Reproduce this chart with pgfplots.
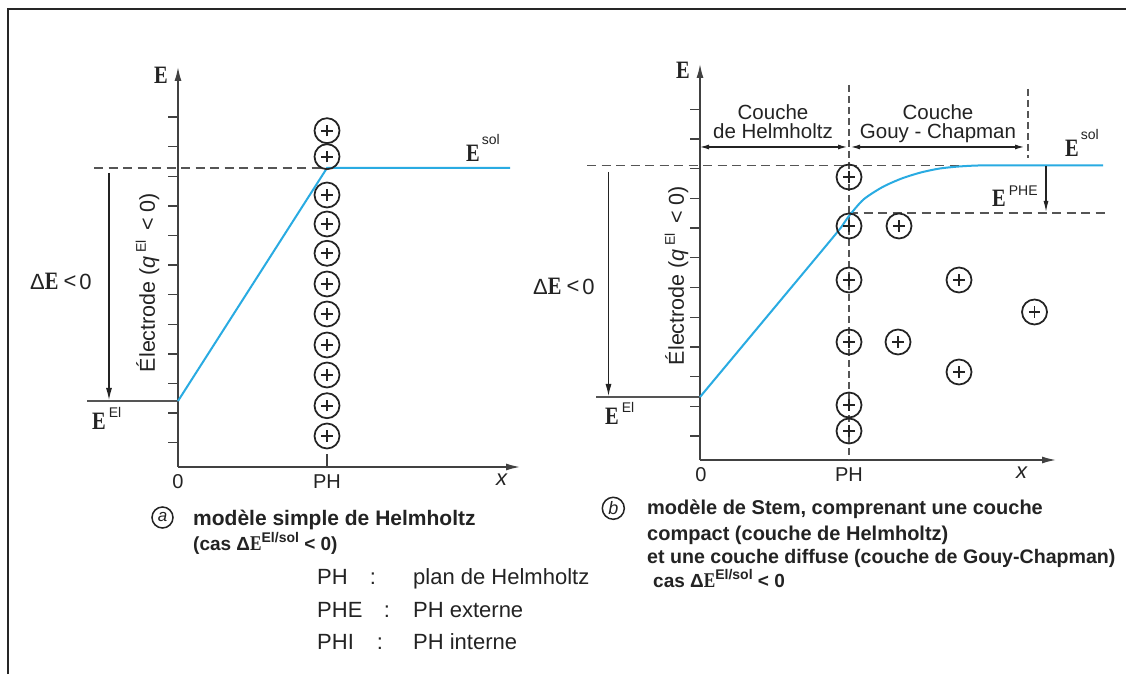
\documentclass[border=0pt]{standalone}
\usepackage{fontspec}
\setmainfont{Liberation Sans}
\newfontfamily\serE{Liberation Serif}
\usepackage{pgfplots}
\pgfplotsset{compat=1.18}
\usetikzlibrary{arrows.meta}

\definecolor{eblue}{RGB}{41,171,226}
\definecolor{ink}{RGB}{35,35,35}
\definecolor{axisgray}{RGB}{65,65,65}
\definecolor{dashgray}{RGB}{85,85,85}

\newcommand\fs[1]{\fontsize{#1}{#1}\selectfont}
\newcommand\Es[1]{{\serE\bfseries\fs{#1}\scalebox{0.82}[1]{E}}}
\newcommand\up[2]{\raisebox{#1pt}{\fs{14}#2}}

\pgfdeclareplotmark{ion}{%
  \pgfpathcircle{\pgfpointorigin}{\pgfplotmarksize}\pgfusepathqstroke
  \pgfpathmoveto{\pgfpoint{-0.45\pgfplotmarksize}{0pt}}%
  \pgfpathlineto{\pgfpoint{0.45\pgfplotmarksize}{0pt}}%
  \pgfpathmoveto{\pgfpoint{0pt}{-0.45\pgfplotmarksize}}%
  \pgfpathlineto{\pgfpoint{0pt}{0.45\pgfplotmarksize}}%
  \pgfusepathqstroke}

\pgfplotsset{
  panel/.style={
    anchor=south west, scale only axis, clip=false,
    axis lines*=left,
    axis line style={line width=1.5pt, axisgray, -{Latex[length=14pt,width=7pt]}},
    xtick=\empty, yticklabels={},
    tick align=outside, major tick length=10pt,
    ytick style={line width=1.3pt, axisgray},
  },
  ions/.style={only marks, mark=ion, mark size=12.5pt, ink,
    mark options={solid, line width=1.75pt}},
  dsh/.style={dashgray, line width=1.5pt, dash pattern=on 9pt off 5.5pt},
}

\begin{document}
\begin{tikzpicture}[x=1pt,y=1pt]
\useasboundingbox (0,0) rectangle (1126,674);
\fill[white] (0,0) rectangle (1126,674);
\draw[line width=2pt, black!85] (7.5,0) -- (7.5,664.5) -- (1126,664.5);

% ---------------- panel a ----------------
\begin{axis}[panel, at={(178pt,207pt)}, width=342pt, height=400pt,
  xmin=178, xmax=520, ymin=207, ymax=607,
  ytick={231.3,260.9,290.5,320.1,349.7,379.3,408.9,438.5,468.1,497.7,527.3,556.9}]
\addplot[dsh] coordinates {(94,506) (322,506)};
\addplot[dashgray, line width=1.5pt] coordinates {(87,273) (178,273)};
\addplot[eblue, line width=2pt] coordinates {(178,273) (327,506) (510,506)};
\addplot[ions] coordinates {(327,543.3) (327,517.3) (327,479) (327,450) (327,420.7)
  (327,390) (327,360) (327,329) (327,299) (327,268.3) (327,238)};
\draw[axisgray, line width=1.5pt] (327,207) -- (327,220);
\draw[ink, line width=1.2pt, -{Latex[length=12pt,width=6pt]}] (109,501) -- (109,274);
\node[anchor=center, ink] at (161,598.5) {\Es{25}};
\node[anchor=base west, ink, inner sep=0] at (466,512) {\Es{25}\hspace{2pt}\up{17}{sol}};
\node[anchor=base west, ink, inner sep=0] at (30,384) {\fs{22}Δ\Es{25}\hspace{5pt}\raisebox{1pt}{<}\hspace{3pt}0};
\node[anchor=base west, ink, inner sep=0] at (92,244) {\Es{25}\hspace{3pt}\up{12}{El}};
\node[rotate=90, anchor=center, ink] at (147.5,391.5)
  {\fs{21.5}Électrode (\textit{q}\,\up{9}{El}\, < 0)};
\node[anchor=center, ink] at (178,192.5) {\fs{20}0};
\node[anchor=center, ink] at (327,192.5) {\fs{20}PH};
\node[anchor=center, ink] at (502,194) {\fs{22}\textit{x}};
\end{axis}

% ---------------- panel b ----------------
\begin{axis}[panel, at={(700pt,214pt)}, width=356pt, height=396pt,
  xmin=700, xmax=1056, ymin=214, ymax=610,
  ytick={238,267.7,297.4,327.1,356.8,386.5,416.2,445.9,475.6,505.3,535,564.7}]
\addplot[dsh] coordinates {(587,508.5) (965,508.5)};
\addplot[dsh] coordinates {(849,461) (1106,461)};
\addplot[dashgray, line width=1.2pt, dash pattern=on 7pt off 4pt] coordinates {(849,589) (849,214)};
\addplot[dashgray, line width=1.2pt, dash pattern=on 7pt off 4pt] coordinates {(1028,585) (1028,516)};
\addplot[dashgray, line width=1.5pt] coordinates {(596,277) (700,277)};
\addplot[eblue, line width=2pt, smooth, tension=0.45] coordinates {
  (700,277) (749,335.8) (787,381.4) (825,427) (840.6,446) (849,458)
  (863.5,474.5) (882.6,487) (901.7,495.5) (920.8,501.5) (939.8,505.5)
  (959,507.5) (978,508.5) (1000,508.5) (1103,508.5)};
\addplot[ions] coordinates {(849,497) (849,448) (849,394) (849,332) (849,269) (849,243)
  (899,448) (959,394) (1034.5,362) (898,332) (959,302)};
\draw[ink, line width=1.2pt, -{Latex[length=12pt,width=6pt]}] (608.5,502) -- (608.5,278);
\draw[ink, line width=1.2pt, -{Latex[length=11pt,width=5pt]}] (1046,508) -- (1046,462);
\draw[ink, line width=1.1pt, {Latex[length=9pt,width=5pt]}-{Latex[length=9pt,width=5pt]}] (700,527) -- (847,527);
\draw[ink, line width=1.1pt, {Latex[length=9pt,width=5pt]}-{Latex[length=9pt,width=5pt]}] (851,527) -- (1024,527);
\node[anchor=base, ink, inner sep=0] at (773,554.7) {\fs{20.5}Couche};
\node[anchor=base, ink, inner sep=0] at (773,535.7) {\fs{20.5}de Helmholtz};
\node[anchor=base, ink, inner sep=0] at (938,554.7) {\fs{20.5}Couche};
\node[anchor=base, ink, inner sep=0] at (938,535.7) {\fs{20.5}Gouy - Chapman};
\node[anchor=center, ink] at (683,603.5) {\Es{25}};
\node[anchor=base west, ink, inner sep=0] at (1065,517) {\Es{25}\hspace{2pt}\up{17}{sol}};
\node[anchor=base west, ink, inner sep=0] at (992,467) {\Es{25}\hspace{3pt}\up{11}{PHE}};
\node[anchor=base west, ink, inner sep=0] at (533,379) {\fs{22}Δ\Es{25}\hspace{5pt}\raisebox{1pt}{<}\hspace{3pt}0};
\node[anchor=base west, ink, inner sep=0] at (605,249) {\Es{25}\hspace{3pt}\up{12}{El}};
\node[rotate=90, anchor=center, ink] at (676.5,398.5)
  {\fs{21.5}Électrode (\textit{q}\,\up{9}{El}\, < 0)};
\node[anchor=center, ink] at (701,199) {\fs{20}0};
\node[anchor=center, ink] at (849,199) {\fs{20}PH};
\node[anchor=center, ink] at (1022,201) {\fs{22}\textit{x}};
\end{axis}

% ---------------- captions ----------------
\node[circle, draw=ink, line width=1.5pt, inner sep=0pt, minimum size=21pt, ink]
  at (162.5,156.5) {\fs{17}\itshape a};
\node[anchor=base west, ink, inner sep=0] at (193,148.3) {\fs{21}\bfseries modèle simple de Helmholtz};
\node[anchor=base west, ink, inner sep=0] at (193,123.3)
  {\fs{19}\bfseries (cas Δ\Es{21}\up{8}{\bfseries El/sol} < 0)};

\node[anchor=base west, ink, inner sep=0] at (317,89) {\fs{22}PH};
\node[anchor=base, ink, inner sep=0] at (373,89) {\fs{22}:};
\node[anchor=base west, ink, inner sep=0] at (413,89) {\fs{22}plan de Helmholtz};
\node[anchor=base west, ink, inner sep=0] at (317,56.7) {\fs{22}PHE};
\node[anchor=base, ink, inner sep=0] at (387,56.7) {\fs{22}:};
\node[anchor=base west, ink, inner sep=0] at (413,56.7) {\fs{22}PH externe};
\node[anchor=base west, ink, inner sep=0] at (317,24) {\fs{22}PHI};
\node[anchor=base, ink, inner sep=0] at (380,24) {\fs{22}:};
\node[anchor=base west, ink, inner sep=0] at (413,24) {\fs{22}PH interne};

\node[circle, draw=ink, line width=1.5pt, inner sep=0pt, minimum size=22pt, ink]
  at (613.3,165.7) {\fs{18}\itshape b};
\node[anchor=base west, ink, inner sep=0] at (647,159) {\fs{20}\bfseries modèle de Stem, comprenant une couche};
\node[anchor=base west, ink, inner sep=0] at (647,133.3) {\fs{20}\bfseries compact (couche de Helmholtz)};
\node[anchor=base west, ink, inner sep=0] at (647,110) {\fs{19.6}\bfseries et une couche diffuse (couche de Gouy-Chapman)};
\node[anchor=base west, ink, inner sep=0] at (653,86.7)
  {\fs{19}\bfseries cas Δ\Es{21}\up{8}{\bfseries El/sol} < 0};
\end{tikzpicture}
\end{document}
